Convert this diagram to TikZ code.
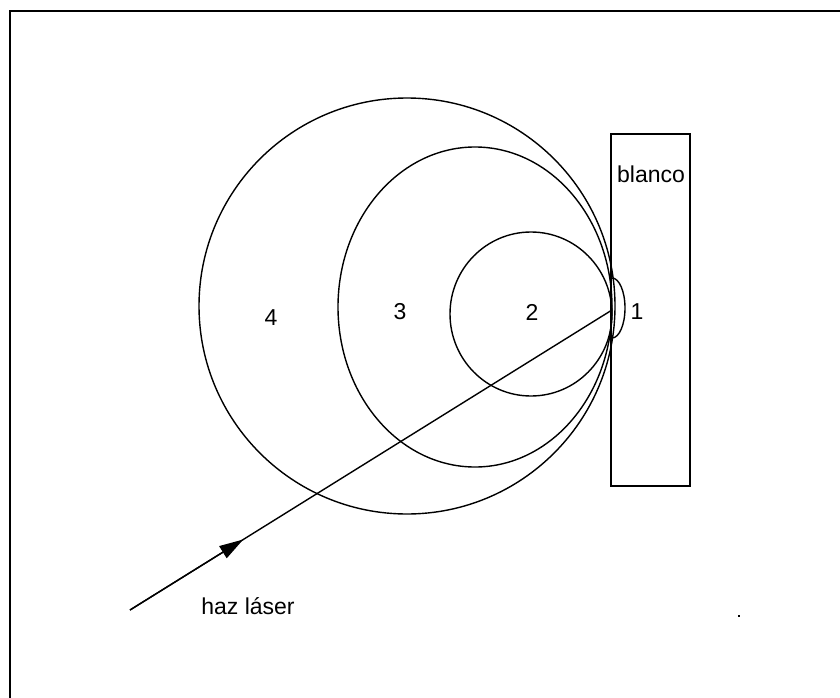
\documentclass[tikz,border=0pt]{standalone}
\usepackage{fontspec}
\setmainfont{Liberation Sans}
\usetikzlibrary{arrows.meta,calc}
\begin{document}
\begin{tikzpicture}[x=1pt,y=-1pt,
  lbl/.style={font=\fontsize{23}{27}\selectfont, inner sep=0pt},
  ring/.style={draw=black, line width=1.4pt},
  frame/.style={draw=black, line width=2.2pt}]
\useasboundingbox (0,0) rectangle (840,698);
% frame (top and left only)
\draw[frame] (10,698) -- (10,11) -- (840,11);
% target
\node[draw, line width=1.5pt, minimum width=79pt, minimum height=352pt, anchor=north west, inner sep=0pt] (blanco) at (610,133) {};
\node[lbl] (blancolbl) at (651,174) {blanco};
% circles
\draw[ring] (407,306) circle (208);
\draw[ring] (475,307) ellipse [x radius=137, y radius=160];
\draw[ring] (531,314) ellipse [x radius=81, y radius=82];
\draw[ring] (612,278) arc[start angle=-90, end angle=90, x radius=13, y radius=30];
% labels
\node[lbl] (n4) at (271,318) {4};
\node[lbl] (n3) at (400,312) {3};
\node[lbl] (n2) at (532,312) {2};
\node[lbl] (n1) at (637,312) {1};
\node[lbl] (laserlbl) at (248,606) {haz láser};
% laser beam
\coordinate (start) at (130,610);
\coordinate (hit) at (612,310);
\draw[line width=1.4pt] (start) -- (hit);
\draw[line width=1.4pt, -{Triangle[length=24pt,width=14pt]}] (start) -- ($(start)!0.235!(hit)$);
% stray dot
\fill (738,615) rectangle (740,617);
\end{tikzpicture}
\end{document}
